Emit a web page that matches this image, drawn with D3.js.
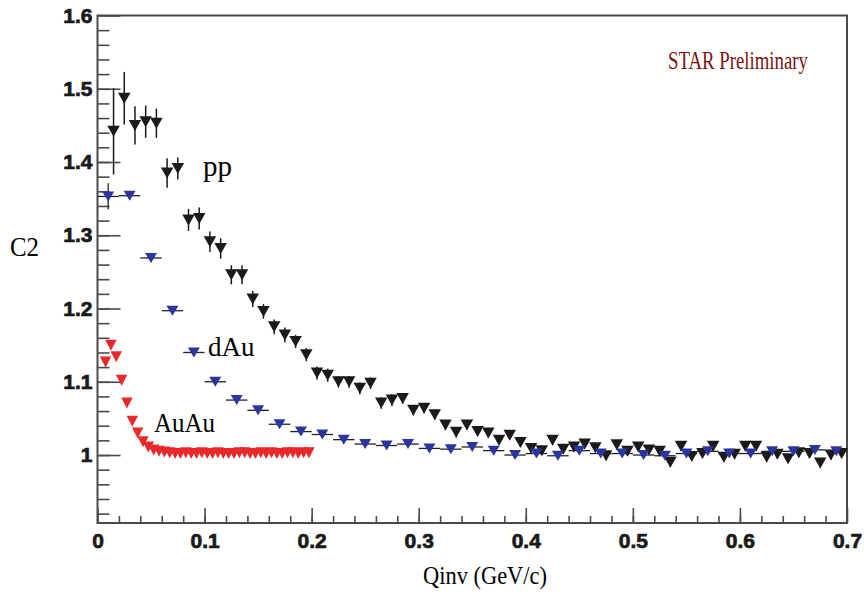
<!DOCTYPE html>
<html>
<head>
<meta charset="utf-8">
<script src="https://cdn.jsdelivr.net/npm/d3@7"></script>
<style>
  body { margin: 0; background: #fff; }
  svg { display: block; }
</style>
</head>
<body>
<div id="chart"></div>
<script>
// tick labels
const xTicks = [0, 0.1, 0.2, 0.3, 0.4, 0.5, 0.6, 0.7];
const xTickLabels = ["0", "0.1", "0.2", "0.3", "0.4", "0.5", "0.6", "0.7"];
const yTicks = [1.0, 1.1, 1.2, 1.3, 1.4, 1.5, 1.6];
const yTickLabels = ["1", "1.1", "1.2", "1.3", "1.4", "1.5", "1.6"];

// pp (black)
const ppQ = [0.015, 0.025, 0.035, 0.045, 0.055, 0.065, 0.075, 0.085, 0.095, 0.105,
  0.115, 0.125, 0.135, 0.145, 0.155, 0.165, 0.175, 0.185, 0.195, 0.205,
  0.215, 0.225, 0.235, 0.245, 0.255, 0.265, 0.275, 0.285, 0.295, 0.305,
  0.315, 0.325, 0.335, 0.345, 0.355, 0.365, 0.375, 0.385, 0.395, 0.405,
  0.415, 0.425, 0.435, 0.445, 0.455, 0.465, 0.475, 0.485, 0.495, 0.505,
  0.515, 0.525, 0.535, 0.545, 0.555, 0.565, 0.575, 0.585, 0.595, 0.605,
  0.615, 0.625, 0.635, 0.645, 0.655, 0.665, 0.675, 0.685, 0.695];
const ppC2 = [1.442, 1.487, 1.450, 1.455, 1.453, 1.385, 1.391, 1.321, 1.323, 1.291,
  1.282, 1.246, 1.246, 1.213, 1.196, 1.175, 1.164, 1.155, 1.137, 1.112,
  1.109, 1.100, 1.100, 1.091, 1.098, 1.071, 1.075, 1.077, 1.061, 1.064,
  1.055, 1.041, 1.031, 1.041, 1.032, 1.030, 1.020, 1.027, 1.017, 1.009,
  1.006, 1.020, 1.008, 1.011, 1.015, 1.010, 0.999, 1.014, 1.005, 1.011,
  1.007, 1.005, 0.990, 1.012, 0.998, 1.002, 1.012, 0.997, 1.001, 1.012,
  1.012, 0.997, 1.001, 0.995, 1.003, 1.002, 0.989, 1.000, 1.002];
const ppErr = [0.059, 0.036, 0.026, 0.022, 0.020, 0.020, 0.015, 0.015, 0.015, 0.014,
  0.014, 0.013, 0.013, 0.011, 0.010, 0.010, 0.010, 0.009, 0.009, 0.009,
  0.009, 0.008, 0.008, 0.008, 0.008, 0.008, 0.008, 0.007, 0.007, 0.007,
  0.007, 0.007, 0.007, 0.006, 0.006, 0.006, 0.006, 0.006, 0.006, 0.006,
  0.006, 0.006, 0.006, 0.006, 0.006, 0.006, 0.006, 0.006, 0.006, 0.006,
  0.006, 0.006, 0.006, 0.006, 0.006, 0.006, 0.006, 0.006, 0.006, 0.006,
  0.006, 0.006, 0.006, 0.006, 0.006, 0.006, 0.006, 0.006, 0.006];

// dAu (blue)
const dAuQ = [0.01, 0.03, 0.05, 0.07, 0.09, 0.11, 0.13, 0.15, 0.17, 0.19,
  0.21, 0.23, 0.25, 0.27, 0.29, 0.31, 0.33, 0.35, 0.37, 0.39,
  0.41, 0.43, 0.45, 0.47, 0.49, 0.51, 0.53, 0.55, 0.57, 0.59,
  0.61, 0.63, 0.65, 0.67, 0.69];
const dAuC2 = [1.353, 1.354, 1.269, 1.197, 1.140, 1.100, 1.075, 1.061, 1.042, 1.032,
  1.028, 1.021, 1.015, 1.013, 1.015, 1.009, 1.008, 1.011, 1.006, 1.000,
  1.002, 0.999, 1.006, 1.002, 1.002, 1.000, 0.999, 1.002, 1.005, 1.002,
  1.002, 1.005, 1.005, 1.007, 1.005];
const dAuErr = [0.018, 0.006, 0.005, 0.005, 0.004, 0.004, 0.004, 0.004, 0.004, 0.004,
  0.004, 0.004, 0.004, 0.004, 0.004, 0.004, 0.004, 0.004, 0.004, 0.004,
  0.004, 0.004, 0.004, 0.004, 0.004, 0.004, 0.004, 0.004, 0.004, 0.004,
  0.004, 0.004, 0.004, 0.004, 0.004];
const dAuHalfBin = 0.01;

// AuAu (red)
const auauQ = [0.0075, 0.0125, 0.0175, 0.0225, 0.0275, 0.0325, 0.0375, 0.0425, 0.0475, 0.0525,
  0.0575, 0.0625, 0.0675, 0.0725, 0.0775, 0.0825, 0.0875, 0.0925, 0.0975, 0.1025,
  0.1075, 0.1125, 0.1175, 0.1225, 0.1275, 0.1325, 0.1375, 0.1425, 0.1475, 0.1525,
  0.1575, 0.1625, 0.1675, 0.1725, 0.1775, 0.1825, 0.1875, 0.1925, 0.1975];
const auauC2 = [1.127, 1.150, 1.134, 1.102, 1.071, 1.046, 1.030, 1.018, 1.011, 1.007,
  1.005, 1.004, 1.003, 1.002, 1.002, 1.003, 1.002, 1.002, 1.003, 1.002,
  1.002, 1.003, 1.002, 1.002, 1.002, 1.003, 1.003, 1.002, 1.002, 1.003,
  1.002, 1.003, 1.002, 1.002, 1.003, 1.003, 1.002, 1.003, 1.003];

// set the dimensions of the frame
const W = 864, H = 597;
const frame = {left: 97.5, right: 847, top: 15.5, bottom: 523};

const svg = d3.select("#chart").append("svg")
  .attr("width", W)
  .attr("height", H);

const x = d3.scaleLinear().domain([0, 0.7]).range([frame.left, frame.right]);
const y = d3.scaleLinear().domain([0.9072, 1.6]).range([frame.bottom, frame.top]);

const axisColor = "#4a4a4a";

// minor ticks
svg.append("g")
  .attr("transform", `translate(0,${frame.bottom})`)
  .call(d3.axisBottom(x).tickValues(d3.range(0.02, 0.7, 0.02)).tickSize(-7).tickFormat(""))
  .call(g => g.select(".domain").remove())
  .call(g => g.selectAll("line").attr("stroke", axisColor).attr("stroke-width", 1.6));
svg.append("g")
  .attr("transform", `translate(${frame.left},0)`)
  .call(d3.axisLeft(y).tickValues(d3.range(0.92, 1.6, 0.02)).tickSize(-12).tickFormat(""))
  .call(g => g.select(".domain").remove())
  .call(g => g.selectAll("line").attr("stroke", axisColor).attr("stroke-width", 1.6));

// major ticks + labels
const styleLabels = g => g.selectAll("text")
  .attr("fill", "#1a1a1a")
  .attr("stroke", "#1a1a1a")
  .attr("stroke-width", 0.7)
  .style("font-family", "'Liberation Sans', Arial, sans-serif")
  .style("font-weight", "bold")
  .style("font-size", "21px");

svg.append("g")
  .attr("transform", `translate(0,${frame.bottom})`)
  .call(d3.axisBottom(x).tickValues(xTicks).tickSize(-15).tickPadding(10)
    .tickFormat((d, i) => xTickLabels[i]))
  .call(g => g.select(".domain").remove())
  .call(g => g.selectAll("line").attr("stroke", axisColor).attr("stroke-width", 1.6))
  .call(styleLabels);

svg.append("g")
  .attr("transform", `translate(${frame.left},0)`)
  .call(d3.axisLeft(y).tickValues(yTicks).tickSize(-23).tickPadding(5)
    .tickFormat((d, i) => yTickLabels[i]))
  .call(g => g.select(".domain").remove())
  .call(g => g.selectAll("line").attr("stroke", axisColor).attr("stroke-width", 1.6))
  .call(styleLabels);

// frame
svg.append("rect")
  .attr("x", frame.left)
  .attr("y", frame.top)
  .attr("width", frame.right - frame.left)
  .attr("height", frame.bottom - frame.top)
  .attr("fill", "none")
  .attr("stroke", axisColor)
  .attr("stroke-width", 2);

// marker: downward triangle
const tri = (w, h) => `M${-w / 2},${-h / 2}L${w / 2},${-h / 2}L0,${h / 2}Z`;

// pp
const pp = ppQ.map((q, i) => ({q: q, c: ppC2[i], e: ppErr[i]}));
const gpp = svg.append("g");
gpp.selectAll("line.err")
  .data(pp)
  .enter().append("line")
  .attr("class", "err")
  .attr("x1", d => x(d.q)).attr("x2", d => x(d.q))
  .attr("y1", d => y(d.c - d.e)).attr("y2", d => y(d.c + d.e))
  .attr("stroke", "#1a1a1a")
  .attr("stroke-width", 1.5);
gpp.selectAll("path")
  .data(pp)
  .enter().append("path")
  .attr("d", tri(12.5, 11))
  .attr("transform", d => `translate(${x(d.q)},${y(d.c)})`)
  .attr("fill", "#1a1a1a");

// dAu
const dau = dAuQ.map((q, i) => ({q: q, c: dAuC2[i], e: dAuErr[i]}));
const gdau = svg.append("g");
gdau.selectAll("line.xerr")
  .data(dau)
  .enter().append("line")
  .attr("class", "xerr")
  .attr("x1", d => x(d.q - dAuHalfBin)).attr("x2", d => x(d.q + dAuHalfBin))
  .attr("y1", d => y(d.c)).attr("y2", d => y(d.c))
  .attr("stroke", "#222")
  .attr("stroke-width", 1.3);
gdau.selectAll("line.yerr")
  .data(dau)
  .enter().append("line")
  .attr("class", "yerr")
  .attr("x1", d => x(d.q)).attr("x2", d => x(d.q))
  .attr("y1", d => y(d.c - d.e)).attr("y2", d => y(d.c + d.e))
  .attr("stroke", "#222")
  .attr("stroke-width", 1.3);
gdau.selectAll("path")
  .data(dau)
  .enter().append("path")
  .attr("d", tri(12, 10))
  .attr("transform", d => `translate(${x(d.q)},${y(d.c)})`)
  .attr("fill", "#2b35a0");

// AuAu
const auau = auauQ.map((q, i) => ({q: q, c: auauC2[i]}));
svg.append("g").selectAll("path")
  .data(auau)
  .enter().append("path")
  .attr("d", tri(11.5, 11))
  .attr("transform", d => `translate(${x(d.q)},${y(d.c)})`)
  .attr("fill", "#e8292a");

// labels
const serif = "'Liberation Serif', 'Times New Roman', serif";
svg.append("text")
  .attr("x", 203).attr("y", 176)
  .style("font-family", serif).style("font-size", "29px")
  .attr("fill", "#000")
  .text("pp");
svg.append("text")
  .attr("x", 208).attr("y", 356)
  .style("font-family", serif).style("font-size", "27px")
  .attr("fill", "#000")
  .text("dAu");
svg.append("text")
  .attr("x", 154).attr("y", 432)
  .style("font-family", serif).style("font-size", "27px")
  .attr("fill", "#000")
  .attr("textLength", 61).attr("lengthAdjust", "spacingAndGlyphs")
  .text("AuAu");

svg.append("text")
  .attr("x", 10).attr("y", 256)
  .style("font-family", serif).style("font-size", "27px")
  .attr("fill", "#000")
  .attr("textLength", 29).attr("lengthAdjust", "spacingAndGlyphs")
  .text("C2");

svg.append("text")
  .attr("x", 423).attr("y", 584)
  .style("font-family", serif).style("font-size", "25px")
  .attr("fill", "#000")
  .attr("textLength", 124).attr("lengthAdjust", "spacingAndGlyphs")
  .text("Qinv (GeV/c)");

svg.append("text")
  .attr("x", 668).attr("y", 69)
  .style("font-family", serif).style("font-size", "26px")
  .attr("fill", "#7a1214")
  .attr("textLength", 140).attr("lengthAdjust", "spacingAndGlyphs")
  .text("STAR Preliminary");
</script>
</body>
</html>
